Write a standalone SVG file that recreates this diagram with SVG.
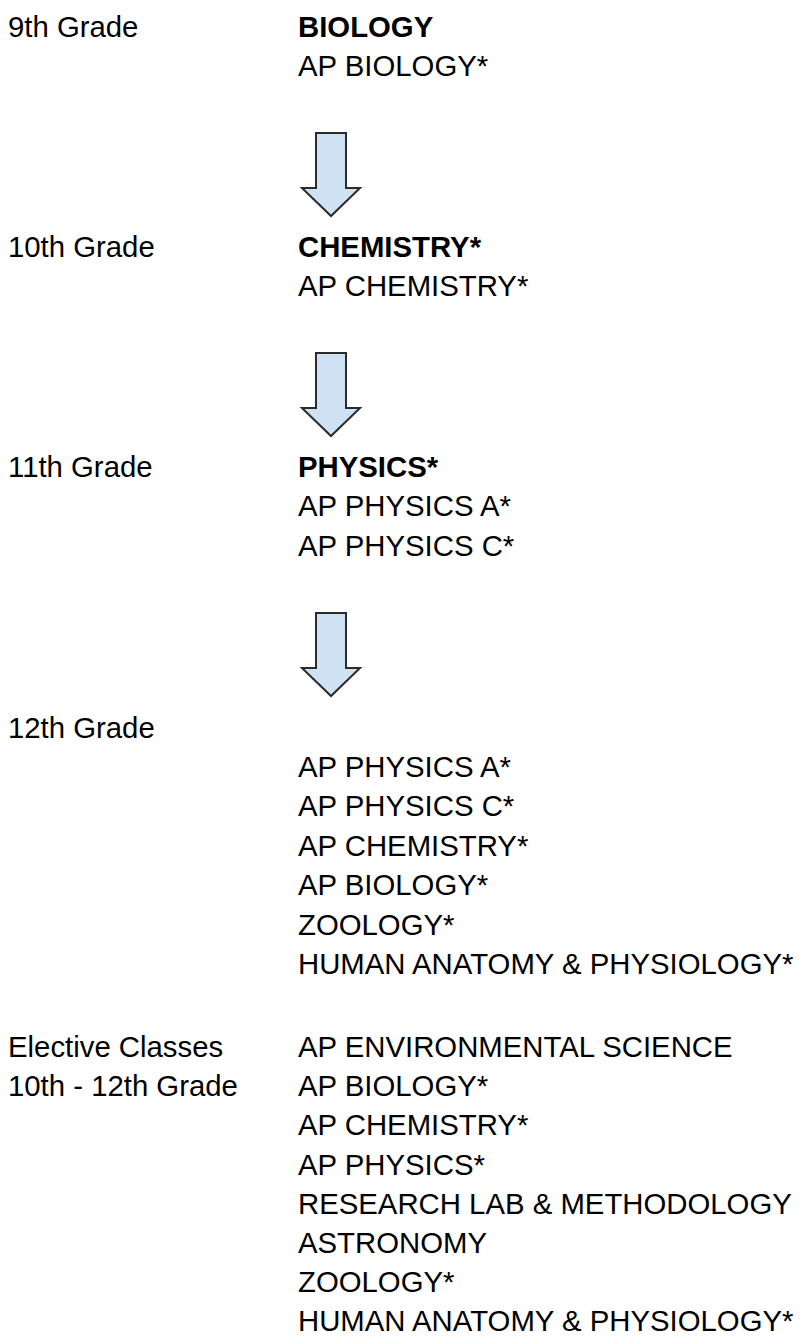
<svg xmlns="http://www.w3.org/2000/svg" width="801" height="1337" viewBox="0 0 801 1337">
<style>
text{font-family:"Liberation Sans",Arial,sans-serif;font-size:29.33px;fill:#000}
.b{font-weight:bold}
.arrow{fill:#cfe2f3;stroke:#2b2b2b;stroke-width:2;stroke-linejoin:miter}
</style>
<defs>
<path id="dn" class="arrow" d="M316,0 H346 V55 H360 L331,83 L302,55 H316 Z"/>
</defs>
<rect width="801" height="1337" fill="#fff"/>
<g id="grade9">
<text x="8" y="37">9th Grade</text>
<text x="298" y="37" class="b">BIOLOGY</text>
<text x="298" y="76">AP BIOLOGY*</text>
</g>
<g id="grade10">
<text x="8" y="257">10th Grade</text>
<text x="298" y="257" class="b">CHEMISTRY*</text>
<text x="298" y="296">AP CHEMISTRY*</text>
</g>
<g id="grade11">
<text x="8" y="477">11th Grade</text>
<text x="298" y="477" class="b">PHYSICS*</text>
<text x="298" y="516">AP PHYSICS A*</text>
<text x="298" y="556">AP PHYSICS C*</text>
</g>
<g id="grade12">
<text x="8" y="738">12th Grade</text>
<text x="298" y="777">AP PHYSICS A*</text>
<text x="298" y="816">AP PHYSICS C*</text>
<text x="298" y="856">AP CHEMISTRY*</text>
<text x="298" y="895">AP BIOLOGY*</text>
<text x="298" y="935">ZOOLOGY*</text>
<text x="298" y="974">HUMAN ANATOMY &amp; PHYSIOLOGY*</text>
</g>
<g id="electives">
<text x="8" y="1057">Elective Classes</text>
<text x="8" y="1096">10th - 12th Grade</text>
<text x="298" y="1057">AP ENVIRONMENTAL SCIENCE</text>
<text x="298" y="1096">AP BIOLOGY*</text>
<text x="298" y="1135">AP CHEMISTRY*</text>
<text x="298" y="1175">AP PHYSICS*</text>
<text x="298" y="1214">RESEARCH LAB &amp; METHODOLOGY</text>
<text x="298" y="1253">ASTRONOMY</text>
<text x="298" y="1292">ZOOLOGY*</text>
<text x="298" y="1331">HUMAN ANATOMY &amp; PHYSIOLOGY*</text>
</g>
<g id="connectors">
<use href="#dn" y="133"/>
<use href="#dn" y="353"/>
<use href="#dn" y="613"/>
</g>
</svg>
